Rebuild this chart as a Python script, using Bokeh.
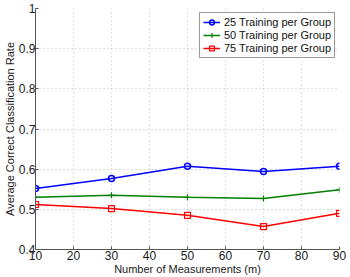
from bokeh.plotting import figure
from bokeh.embed import file_html
from bokeh.resources import INLINE
from bokeh.models import Legend, LegendItem, FixedTicker, Range1d

measurements = [10, 30, 50, 70, 90]
rate_25 = [0.552, 0.577, 0.607, 0.594, 0.607]
rate_50 = [0.530, 0.535, 0.530, 0.527, 0.549]
rate_75 = [0.512, 0.502, 0.485, 0.457, 0.490]
x_ticks = [10, 20, 30, 40, 50, 60, 70, 80, 90]
y_ticks = [0.4, 0.5, 0.6, 0.7, 0.8, 0.9, 1.0]

FONT = "Liberation Sans"

p = figure(width=350, height=277, output_backend="svg", toolbar_location=None,
           x_range=Range1d(10, 90), y_range=Range1d(0.4, 1.0),
           min_border_left=0, min_border_right=11, min_border_top=8, min_border_bottom=0)
p.outline_line_color = None
p.background_fill_color = "white"
p.border_fill_color = "white"

p.xaxis.ticker = FixedTicker(ticks=x_ticks)
p.yaxis.ticker = FixedTicker(ticks=y_ticks)
p.yaxis.major_label_overrides = {0.4: "0.4", 0.5: "0.5", 0.6: "0.6", 0.7: "0.7",
                                 0.8: "0.8", 0.9: "0.9", 1.0: "1"}
for ax in (p.xaxis, p.yaxis):
    ax.axis_line_color = "#555555"
    ax.major_tick_line_color = "#555555"
    ax.major_tick_in = 3
    ax.major_tick_out = 0
    ax.minor_tick_line_color = None
    ax.major_label_text_font = FONT
    ax.major_label_text_font_size = "12px"
    ax.major_label_text_color = "#1a1a1a"
    ax.axis_label_text_font = FONT
    ax.axis_label_text_font_size = "11px"
    ax.axis_label_text_font_style = "normal"
    ax.axis_label_text_color = "#1a1a1a"
p.xaxis.axis_label = "Number of Measurements (m)"
p.yaxis.axis_label = "Average Correct Classification Rate"
p.xaxis.major_label_standoff = 1
p.yaxis.major_label_standoff = 0
p.xaxis.axis_label_standoff = 0
p.yaxis.axis_label_standoff = 0

for g in (p.xgrid, p.ygrid):
    g.grid_line_color = "#bbbbbb"
    g.grid_line_dash = "1 3"
    g.grid_line_width = 1

l1 = p.line(measurements, rate_25, color="blue", line_width=1.5)
m1 = p.scatter(measurements, rate_25, marker="circle", size=6, line_color="blue",
               fill_color=None, line_width=1.5)
l2 = p.line(measurements, rate_50, color="green", line_width=1.5)
m2 = p.scatter(measurements, rate_50, marker="cross", size=6, line_color="green",
               line_width=1.2)
l3 = p.line(measurements, rate_75, color="red", line_width=1.5)
m3 = p.scatter(measurements, rate_75, marker="square", size=6, line_color="red",
               fill_color=None, line_width=1.2)

legend = Legend(items=[
    LegendItem(label="25 Training per Group", renderers=[l1, m1]),
    LegendItem(label="50 Training per Group", renderers=[l2, m2]),
    LegendItem(label="75 Training per Group", renderers=[l3, m3]),
], location="top_right")
legend.label_text_font = FONT
legend.label_text_font_size = "11px"
legend.label_text_color = "#111111"
legend.glyph_width = 17
legend.glyph_height = 12
legend.label_height = 12
legend.spacing = 1
legend.padding = 3
legend.margin = 4
legend.label_standoff = 4
legend.border_line_color = "#333333"
legend.border_line_width = 1
legend.background_fill_alpha = 1
p.add_layout(legend)

open("out.html", "w").write(file_html(p, INLINE))
